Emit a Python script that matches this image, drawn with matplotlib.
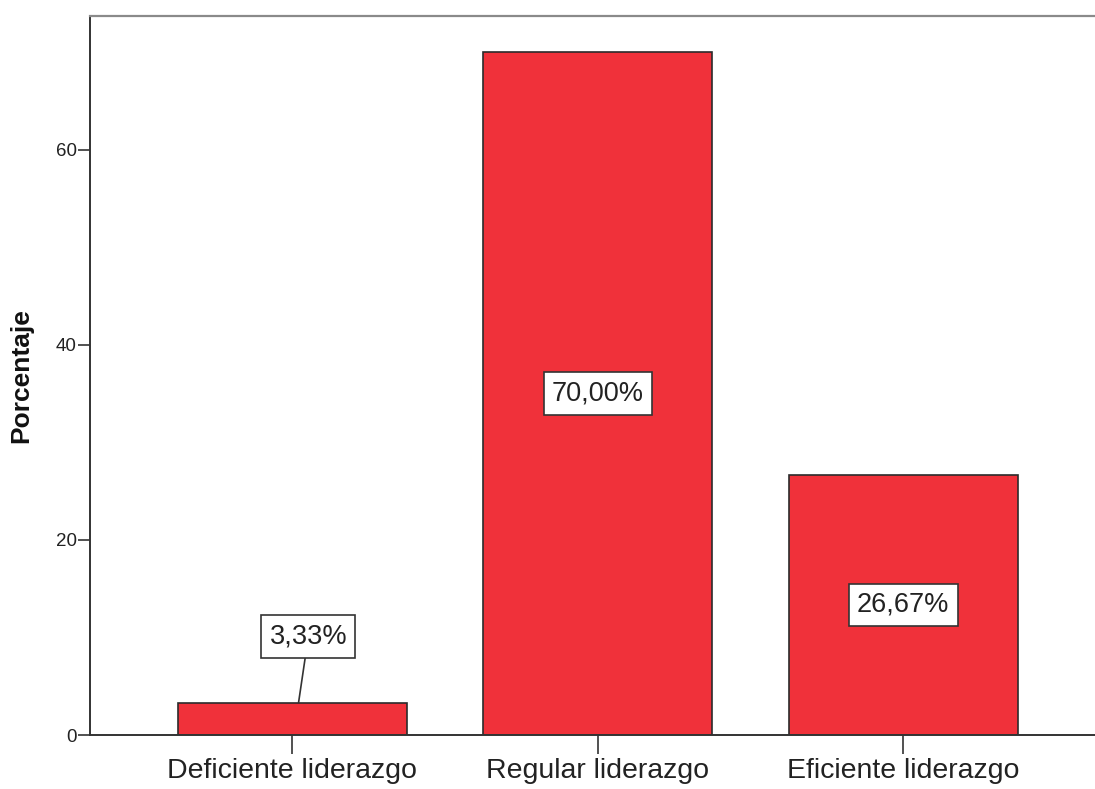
import matplotlib.pyplot as plt

plt.rcParams['font.family'] = ['Liberation Sans', 'DejaVu Sans']

# ---------------- data ----------------
categorias = ['Deficiente liderazgo', 'Regular liderazgo', 'Eficiente liderazgo']
porcentajes = [3.33, 70.00, 26.67]
yticks = [0, 20, 40, 60]

BAR_COLOR = '#f0313a'
EDGE = '#2b2b2b'

fig = plt.figure(figsize=(10.95, 7.89), dpi=100)
ax = fig.add_axes([90 / 1095, 54 / 789, 1 - 90 / 1095, (735 - 16) / 789])

x = list(range(len(categorias)))
bars = ax.bar(x, porcentajes, width=0.75, color=BAR_COLOR, edgecolor=EDGE, linewidth=1.2, zorder=2)

ax.set_xlim(-0.663, 2.628)
ax.set_ylim(0, 73.7)
ax.set_xticks(x)
ax.set_xticklabels(categorias, fontsize=20.5, color='#222222')
ax.set_yticks(yticks)
ax.set_yticklabels([str(v) for v in yticks], fontsize=13.5, color='#222222')
ax.tick_params(axis='x', length=13.5, width=1.2, color='#333333', pad=3)
ax.tick_params(axis='y', length=8.5, width=1.2, color='#333333', pad=1)

ax.set_ylabel('Porcentaje', fontsize=19, fontweight='bold', color='#111111')
ax.yaxis.set_label_coords(-57 / 1005, 0.5)

for side in ['left', 'bottom']:
    ax.spines[side].set_color('#333333')
    ax.spines[side].set_linewidth(1.4)
ax.spines['top'].set_color('#8a8a8a')
ax.spines['top'].set_linewidth(1.6)
ax.spines['right'].set_visible(False)

box = dict(boxstyle='square,pad=0.3', facecolor='white', edgecolor='#333333', linewidth=1.2)
for i, v in enumerate(porcentajes):
    txt = f'{v:.2f}'.replace('.', ',') + '%'
    if v < 10:
        # small bar: label sits above with a leader line
        ax.annotate(txt, xy=(i + 0.02, v), xytext=(i + 0.052, 10.1),
                    ha='center', va='center', fontsize=19.5, color='#222222',
                    bbox=box, zorder=4,
                    arrowprops=dict(arrowstyle='-', color='#333333', linewidth=1.2,
                                    shrinkA=0, shrinkB=0))
    else:
        ax.text(i, v / 2, txt, ha='center', va='center', fontsize=19.5,
                color='#222222', bbox=box, zorder=4)

fig.savefig('out.png', dpi=100)
